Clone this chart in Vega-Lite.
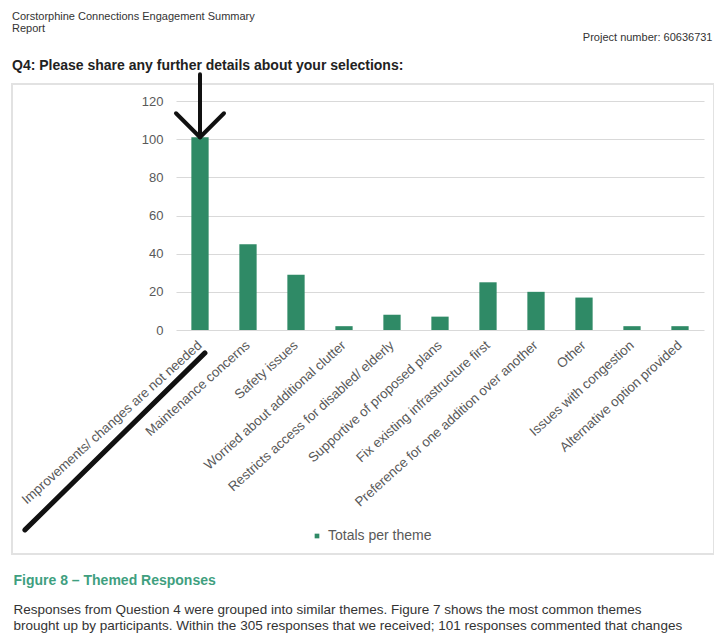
{
  "$schema": "https://vega.github.io/schema/vega-lite/v6.json",
  "width": 702,
  "height": 470,
  "autosize": {"type": "none"},
  "padding": {"left": 12, "top": 84, "right": 0, "bottom": 80},
  "background": "white",
  "config": {
    "font": "Liberation Sans",
    "view": {"stroke": "#e2e2e2", "strokeWidth": 2}
  },
  "title": {
    "text": ["Corstorphine Connections Engagement Summary", "Report"],
    "subtitle": "Q4: Please share any further details about your selections:",
    "anchor": "start",
    "frame": "group",
    "dx": 0,
    "offset": -42,
    "fontSize": 11,
    "fontWeight": "normal",
    "color": "#333333",
    "lineHeight": 12,
    "subtitleFontSize": 14,
    "subtitleFontWeight": "bold",
    "subtitleColor": "#222222",
    "subtitlePadding": 25
  },
  "datasets": {
    "themes": [
      {"theme": "Improvements/ changes are not needed", "total": 101},
      {"theme": "Maintenance concerns", "total": 45},
      {"theme": "Safety issues", "total": 29},
      {"theme": "Worried about additional clutter", "total": 2},
      {"theme": "Restricts access for disabled/ elderly", "total": 8},
      {"theme": "Supportive of proposed plans", "total": 7},
      {"theme": "Fix existing infrastructure first", "total": 25},
      {"theme": "Preference for one addition over another", "total": 20},
      {"theme": "Other", "total": 17},
      {"theme": "Issues with congestion", "total": 2},
      {"theme": "Alternative option provided", "total": 2}
    ],
    "arrow": [
      {"theme": "Improvements/ changes are not needed", "from": 134, "tip": 101}
    ],
    "underline": [
      {"theme": "Improvements/ changes are not needed", "at": -12}
    ]
  },
  "resolve": {"axis": {"x": "independent"}},
  "layer": [
    {
      "data": {"name": "themes"},
      "mark": {"type": "bar", "color": "#2f8a66"},
      "encoding": {
        "x": {
          "field": "theme",
          "type": "nominal",
          "sort": null,
          "scale": {"range": [164, 692], "paddingInner": 0.64, "paddingOuter": 0.32},
          "axis": {
            "orient": "bottom",
            "offset": -224,
            "domain": false,
            "ticks": false,
            "grid": false,
            "labelAngle": -42,
            "labelAlign": "right",
            "labelBaseline": "middle",
            "labelPadding": 13,
            "labelFontSize": 13.4,
            "labelColor": "#595959",
            "labelLimit": 400,
            "labelOverlap": false,
            "title": "Figure 8 – Themed Responses",
            "titleX": 1,
            "titleY": 250,
            "titleAlign": "left",
            "titleAnchor": "start",
            "titleBaseline": "middle",
            "titleFontSize": 14,
            "titleFontWeight": "bold",
            "titleColor": "#3f9f7f"
          }
        },
        "y": {
          "field": "total",
          "type": "quantitative",
          "scale": {"domain": [0, 120], "range": [246, 17], "nice": false, "zero": true},
          "axis": {
            "orient": "left",
            "offset": -164,
            "domain": false,
            "ticks": false,
            "grid": true,
            "gridColor": "#d9d9d9",
            "gridWidth": 1,
            "values": [0, 20, 40, 60, 80, 100, 120],
            "labelPadding": 13,
            "labelFontSize": 13,
            "labelColor": "#595959",
            "title": [
              "Responses from Question 4 were grouped into similar themes. Figure 7 shows the most common themes",
              "brought up by participants. Within the 305 responses that we received; 101 responses commented that changes"
            ],
            "titleAngle": 0,
            "titleX": -163,
            "titleY": 518,
            "titleAlign": "left",
            "titleBaseline": "top",
            "titleFontSize": 13.5,
            "titleFontWeight": "normal",
            "titleColor": "#333333",
            "titleLineHeight": 16.5
          }
        },
        "color": {
          "datum": "Totals per theme",
          "scale": {"range": ["#2f8a66"]},
          "legend": {
            "orient": "none",
            "legendX": 298,
            "legendY": 445,
            "title": null,
            "symbolType": "square",
            "symbolSize": 22,
            "labelFontSize": 14,
            "labelColor": "#595959"
          }
        }
      }
    },
    {
      "data": {"name": "arrow"},
      "mark": {"type": "rule", "color": "#111111", "strokeWidth": 4, "strokeCap": "round"},
      "encoding": {
        "x": {
          "field": "theme",
          "type": "nominal",
          "sort": null,
          "axis": {
            "orient": "top",
            "labels": false,
            "ticks": false,
            "domain": false,
            "grid": false,
            "title": "Project number: 60636731",
            "titleX": 700,
            "titleY": -47,
            "titleAlign": "right",
            "titleBaseline": "middle",
            "titleFontSize": 11,
            "titleFontWeight": "normal",
            "titleColor": "#333333"
          }
        },
        "y": {"field": "from", "type": "quantitative"},
        "y2": {"field": "tip"}
      }
    },
    {
      "data": {"name": "arrow"},
      "mark": {
        "type": "point",
        "shape": "M -1 -1 L 0 0 L 1 -1",
        "size": 2304,
        "filled": false,
        "color": "#111111",
        "strokeWidth": 4,
        "strokeCap": "round",
        "strokeJoin": "round",
        "opacity": 1
      },
      "encoding": {
        "x": {"field": "theme", "type": "nominal", "sort": null, "axis": null},
        "y": {"field": "tip", "type": "quantitative"}
      }
    },
    {
      "data": {"name": "underline"},
      "mark": {
        "type": "point",
        "shape": "M -0.989 1 L 0.028 0",
        "size": 125316,
        "filled": false,
        "color": "#111111",
        "strokeWidth": 5,
        "strokeCap": "round",
        "opacity": 1
      },
      "encoding": {
        "x": {"field": "theme", "type": "nominal", "sort": null, "axis": null},
        "y": {"field": "at", "type": "quantitative"}
      }
    }
  ]
}
